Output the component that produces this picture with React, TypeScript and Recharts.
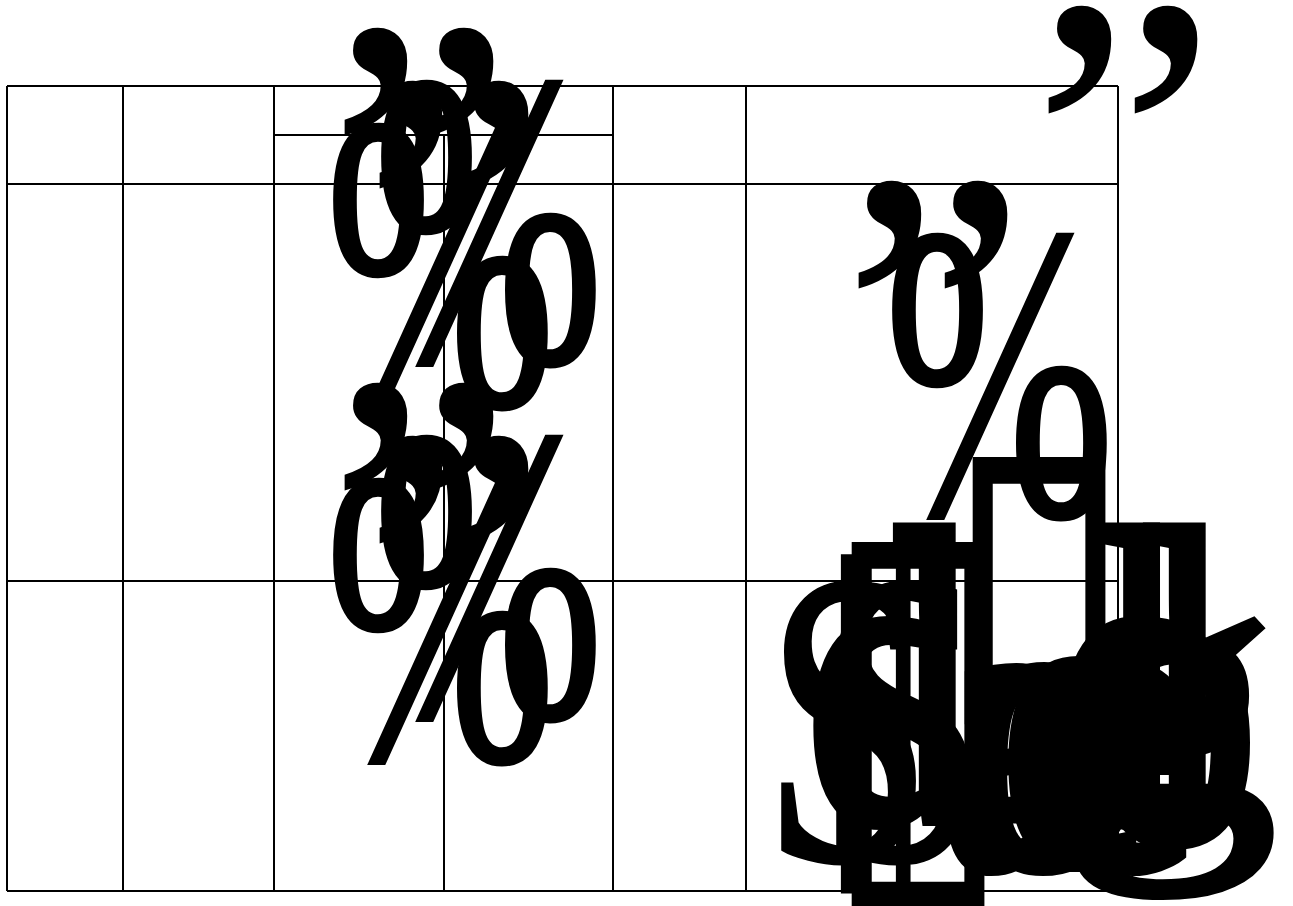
import React from "react";
import {
  ComposedChart,
  XAxis,
  YAxis,
  Scatter,
  ReferenceLine,
} from "recharts";

// table rules (page pixels)
const colEdges = [7, 123, 274, 613, 746, 1118];
const rowEdges = [86, 184, 581, 891];
const subHeaderCols = [274, 613];
const subHeaderY = 135;
const subHeaderSplit = 444;

// oversized cell text, x = pen start, y = baseline
const pctX = [373, 325, 373, 325, 884];
const pctY = [361, 404, 716, 759, 514];

const quoteX = [327, 362, 327, 362, 841, 1031];
const quoteY = [307, 360, 662, 715, 460, 285];

const dollarX = [769, 824];
const dollarY = [860, 860];

const letterText = ["d", "l", "d", "a", "e", "o", "e", "o"];
const letterX = [806, 1095, 1056, 940, 1000, 960, 1050, 1090];
const letterY = [820, 820, 820, 866, 860, 866, 866, 840];

const tailText = ["g"];
const tailX = [1060];
const tailY = [815];

const boxX = [819, 940];
const boxY = [850, 765];

const pcts = pctX.map((x, i) => ({ x, y: pctY[i], t: "%" }));
const quotes = quoteX.map((x, i) => ({ x, y: quoteY[i], t: "”" }));
const dollars = dollarX.map((x, i) => ({ x, y: dollarY[i], t: "$" }));
const letters = letterText.map((t, i) => ({ x: letterX[i], y: letterY[i], t }));
const tails = tailText.map((t, i) => ({ x: tailX[i], y: tailY[i], t }));
const boxes = boxX.map((x, i) => ({ x, y: boxY[i], t: "▯" }));

const makeText =
  (size: number, sx: number, family: string, sw = 0) =>
  //eslint-disable-next-line
  (props: any) => (
    <text
      transform={`translate(${props.cx},${props.cy}) scale(${sx},1)`}
      fontFamily={family}
      fontSize={size}
      fill="#000"
      stroke={sw ? "#000" : "none"}
      strokeWidth={sw}
    >
      {props.payload.t}
    </text>
  );

const SERIF = "'Liberation Serif', serif";
const PctText = makeText(420, 0.66, SERIF, 4);
const QuoteText = makeText(420, 1, SERIF);
const DollarText = makeText(420, 0.74, SERIF, 3);
const LetterText = makeText(420, 0.8, SERIF, 12);
const TailText = makeText(380, 1.15, SERIF, 6);
const BoxText = makeText(480, 0.75, "'DejaVu Sans', sans-serif");

function App() {
  return (
    <div style={{ position: "absolute", left: 0, top: 0 }}>
      <ComposedChart
        width={1293}
        height={906}
        margin={{ top: 0, right: 0, bottom: 0, left: 0 }}
      >
        <XAxis type="number" dataKey="x" domain={[0, 1293]} hide />
        <YAxis type="number" dataKey="y" domain={[0, 906]} reversed hide />
        {colEdges.map((c) => (
          <ReferenceLine
            key={"c" + c}
            segment={[
              { x: c, y: rowEdges[0] },
              { x: c, y: rowEdges[rowEdges.length - 1] },
            ]}
            stroke="#000"
            strokeWidth={2}
          />
        ))}
        <ReferenceLine
          segment={[
            { x: subHeaderSplit, y: subHeaderY },
            { x: subHeaderSplit, y: rowEdges[rowEdges.length - 1] },
          ]}
          stroke="#000"
          strokeWidth={2}
        />
        {rowEdges.map((r) => (
          <ReferenceLine
            key={"r" + r}
            segment={[
              { x: colEdges[0], y: r },
              { x: colEdges[colEdges.length - 1], y: r },
            ]}
            stroke="#000"
            strokeWidth={2}
          />
        ))}
        <ReferenceLine
          segment={[
            { x: subHeaderCols[0], y: subHeaderY },
            { x: subHeaderCols[1], y: subHeaderY },
          ]}
          stroke="#000"
          strokeWidth={2}
        />
        <Scatter data={pcts} shape={PctText} isAnimationActive={false} />
        <Scatter data={quotes} shape={QuoteText} isAnimationActive={false} />
        <Scatter data={boxes} shape={BoxText} isAnimationActive={false} />
        <Scatter data={dollars} shape={DollarText} isAnimationActive={false} />
        <Scatter data={letters} shape={LetterText} isAnimationActive={false} />
        <Scatter data={tails} shape={TailText} isAnimationActive={false} />
      </ComposedChart>
    </div>
  );
}

export default App;
